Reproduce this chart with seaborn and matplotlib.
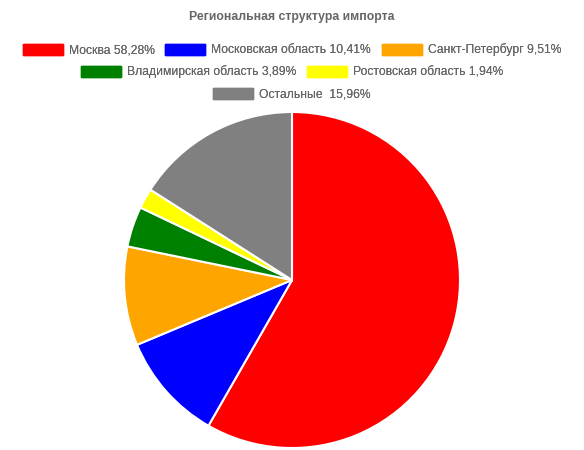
import matplotlib
matplotlib.use("Agg")
import matplotlib.pyplot as plt
from matplotlib.patches import Rectangle
import seaborn as sns

regions = ["Москва 58,28%", "Московская область 10,41%", "Санкт-Петербург 9,51%",
           "Владимирская область 3,89%", "Ростовская область 1,94%", "Остальные  15,96%"]
shares = [58.28, 10.41, 9.51, 3.89, 1.94, 15.96]
colors = ["#ff0000", "#0000ff", "#ffa500", "#008000", "#ffff00", "#808080"]
legend_rows = [[0, 1, 2], [3, 4], [5]]

sns.set_theme(style="white")
plt.rcParams["font.family"] = ["Liberation Sans", "DejaVu Sans"]

W, H = 584, 450
fig = plt.figure(figsize=(W / 100, H / 100), dpi=100)

# pie area: centre (292, 280), radius 168 px
cx, cy, r = 292, 280, 168
ax = fig.add_axes([(cx - r) / W, (H - cy - r) / H, 2 * r / W, 2 * r / H])
ax.pie(shares, colors=colors, startangle=90, counterclock=False, radius=1,
       wedgeprops=dict(edgecolor="white", linewidth=1.5, clip_on=False))
ax.set_xlim(-1, 1)
ax.set_ylim(-1, 1)
ax.set_aspect("equal")
ax.axis("off")

fig.text(0.5, 1 - 17 / H, "Региональная структура импорта", ha="center", va="center",
         fontsize=8.8, fontweight="bold", color="#666666")

fs = 8.7
px = fs * 100 / 72
row_y = [50, 72, 94]
for y, idx in zip(row_y, legend_rows):
    handles = [Rectangle((0, 0), 1, 1, facecolor=colors[i], edgecolor=colors[i])
               for i in idx]
    labels = [regions[i] for i in idx]
    leg = fig.legend(handles, labels, loc="center", bbox_to_anchor=(0.5, 1 - y / H),
                     ncol=len(idx), frameon=False, fontsize=fs, handlelength=40 / px,
                     handleheight=12 / px, handletextpad=6 / px, columnspacing=11 / px,
                     borderpad=0, borderaxespad=0)
    for t in leg.get_texts():
        t.set_color("#666666")
    fig.add_artist(leg)

fig.savefig("out.png", dpi=100)
